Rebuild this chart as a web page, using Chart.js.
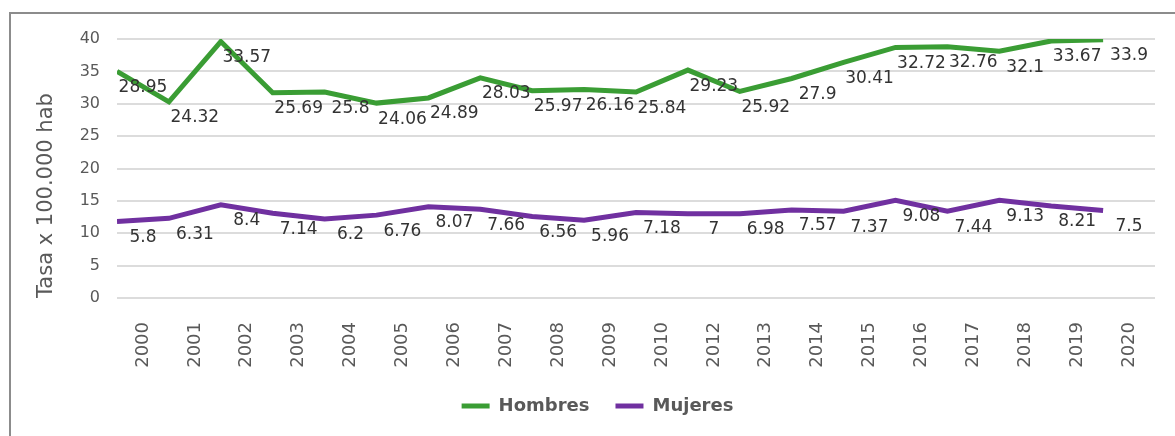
<!DOCTYPE html>
<html>
<head>
<meta charset="utf-8">
<script src="https://cdn.jsdelivr.net/npm/chart.js@4.4.1/dist/chart.umd.min.js"></script>
<style>
  html, body { margin: 0; padding: 0; background: #fff; }
  #wrap { position: relative; width: 1175px; height: 436px; }
  #frame {
    position: absolute; left: 9px; top: 12px; width: 1200px; height: 460px;
    border-left: 2px solid #8c8c8c; border-top: 2px solid #8c8c8c;
    pointer-events: none;
  }
</style>
</head>
<body>
<div id="wrap">
  <canvas id="chart" width="1175" height="436"></canvas>
  <div id="frame"></div>
</div>
<script>
// years on the axis (2011 is missing in the source)
const years = ['2000', '2001', '2002', '2003', '2004', '2005', '2006', '2007', '2008', '2009',
  '2010', '2012', '2013', '2014', '2015', '2016', '2017', '2018', '2019', '2020'];

// line heights as drawn
const hombres = [35.0, 30.3, 39.6, 31.7, 31.8, 30.1, 30.9, 34.0, 32.0, 32.2,
  31.8, 35.2, 31.9, 33.9, 36.4, 38.7, 38.8, 38.1, 39.7, 39.9];
const mujeres = [11.8, 12.3, 14.4, 13.1, 12.2, 12.8, 14.1, 13.7, 12.6, 12.0,
  13.2, 13.0, 13.0, 13.6, 13.4, 15.1, 13.4, 15.1, 14.2, 13.5];

// data labels printed on the chart
const hombresLabels = ['28.95', '24.32', '33.57', '25.69', '25.8', '24.06', '24.89', '28.03', '25.97', '26.16',
  '25.84', '29.23', '25.92', '27.9', '30.41', '32.72', '32.76', '32.1', '33.67', '33.9'];
const mujeresLabels = ['5.8', '6.31', '8.4', '7.14', '6.2', '6.76', '8.07', '7.66', '6.56', '5.96',
  '7.18', '7', '6.98', '7.57', '7.37', '9.08', '7.44', '9.13', '8.21', '7.5'];

const FONT = "'DejaVu Sans', sans-serif";

// ---------------------------
// Data labels under each point, centred on the year slot
// ---------------------------
const valueLabels = {
  id: 'valueLabels',
  afterDatasetsDraw(chart) {
    const ctx = chart.ctx;
    const xs = chart.scales.x;
    ctx.save();
    ctx.font = '17px ' + FONT;
    ctx.fillStyle = '#333333';
    ctx.textAlign = 'center';
    ctx.textBaseline = 'middle';
    chart.data.datasets.forEach((ds, di) => {
      const meta = chart.getDatasetMeta(di);
      meta.data.forEach((pt, i) => {
        const x = xs.getPixelForValue(i + 0.5);
        ctx.fillText(ds.valueText[i], x, pt.y + 16);
      });
    });
    ctx.restore();
  }
};

const ctx = document.getElementById('chart').getContext('2d');
new Chart(ctx, {
  type: 'line',
  data: {
    datasets: [
      {
        label: 'Hombres',
        data: hombres.map((v, i) => ({ x: i, y: v })),
        valueText: hombresLabels,
        borderColor: '#3a9d34',
        backgroundColor: '#3a9d34',
        borderWidth: 5,
        pointRadius: 0,
        tension: 0
      },
      {
        label: 'Mujeres',
        data: mujeres.map((v, i) => ({ x: i, y: v })),
        valueText: mujeresLabels,
        borderColor: '#7030a0',
        backgroundColor: '#7030a0',
        borderWidth: 5,
        pointRadius: 0,
        tension: 0
      }
    ]
  },
  options: {
    responsive: false,
    animation: false,
    layout: { padding: { top: 39, left: 34, right: 14, bottom: 11 } },
    plugins: {
      tooltip: { enabled: false },
      legend: {
        position: 'bottom',
        labels: {
          usePointStyle: true,
          pointStyle: 'line',
          pointStyleWidth: 28,
          padding: 26,
          color: '#595959',
          font: { family: FONT, size: 18, weight: 'bold' }
        }
      }
    },
    scales: {
      x: {
        type: 'linear',
        min: 0,
        max: 20,
        afterBuildTicks: (scale) => {
          scale.ticks = years.map((_, i) => ({ value: i + 0.5 }));
        },
        afterFit: (scale) => { scale.height = 73; },
        grid: { display: false, drawTicks: false },
        border: { display: false },
        ticks: {
          autoSkip: false,
          minRotation: 90,
          maxRotation: 90,
          padding: 24,
          color: '#595959',
          font: { family: FONT, size: 18 },
          callback: (v, i) => years[i]
        }
      },
      y: {
        min: 0,
        max: 40,
        afterFit: (scale) => { scale.width = 83; },
        grid: { color: '#dcdcdc', lineWidth: 2, drawTicks: false },
        border: { display: false },
        ticks: {
          stepSize: 5,
          padding: 17,
          color: '#595959',
          font: { family: FONT, size: 16 }
        },
        title: {
          display: true,
          text: 'Tasa x 100.000 hab',
          align: 'start',
          color: '#595959',
          padding: { top: 0, bottom: 0 },
          font: { family: FONT, size: 21 }
        }
      }
    }
  },
  plugins: [valueLabels]
});
</script>
</body>
</html>
